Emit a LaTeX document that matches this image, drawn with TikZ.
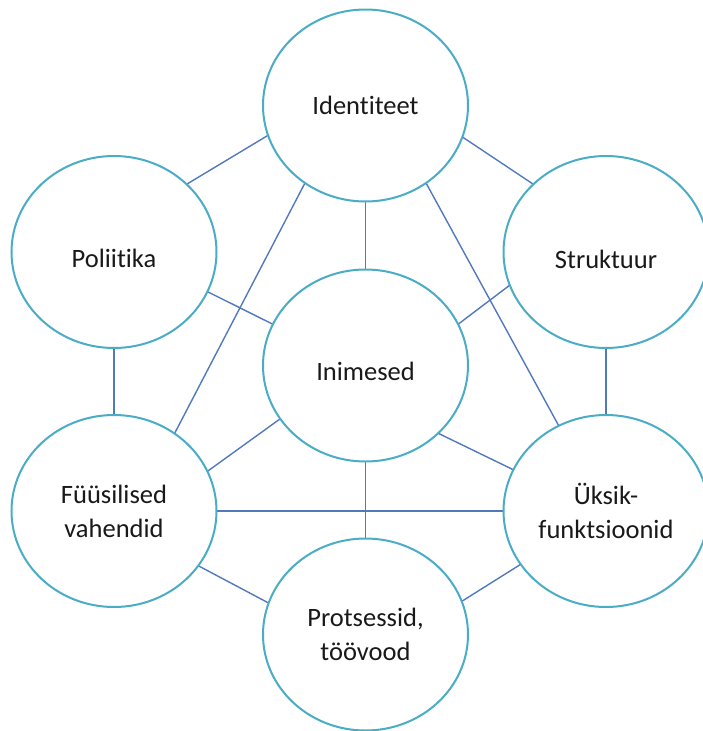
\documentclass[tikz,border=0pt]{standalone}
\usepackage{fontspec}
\setmainfont{Carlito}[Ligatures={NoCommon}]
\usetikzlibrary{shapes.geometric,backgrounds}
\definecolor{ringcol}{RGB}{75,172,198}
\definecolor{linkcol}{RGB}{82,120,190}
% move a label down without changing its box
\newcommand{\dropby}[2]{\raisebox{-#1}[\height][\depth]{#2}}
\begin{document}
\begin{tikzpicture}[x=1pt,y=-1pt,
  topic/.style={ellipse, draw=ringcol, line width=2pt, fill=white,
    minimum width=205pt, minimum height=192pt, inner sep=0pt, outer sep=0pt,
    align=center, font=\fontsize{26.5}{34}\selectfont, text=black!90},
  link/.style={draw=linkcol, line width=1.4pt}]
\useasboundingbox (0,0) rectangle (703,731);
\clip (0,0) rectangle (703,731);

% the seven topics
\node[topic] (ident)  at (365.5,105.5) {Identiteet};
\node[topic] (pol)    at (114,252)     {\dropby{6pt}{Poliitika}};
\node[topic] (strukt) at (606,252)     {\dropby{7pt}{Struktuur}};
\node[topic] (inim)   at (365.5,365.5) {\dropby{6pt}{Inimesed}};
\node[topic] (fuus)   at (114,511)     {Füüsilised\\vahendid};
\node[topic] (uksik)  at (606,511)     {Üksik-\\funktsioonid};
\node[topic] (prot)   at (365.5,634.5) {Protsessid,\\töövood};

% connections between topics
\begin{scope}[on background layer]
  \draw[link] (ident.197.7) -- (pol.43);
  \draw[link] (ident.342)   -- (strukt.137);
  \draw[link] (ident.270)   -- (inim.90);
  \draw[link] (ident.232.7) -- (fuus.52.8);
  \draw[link] (ident.308)   -- (uksik.119);
  \draw[link] (pol.337)     -- (inim.156.4);
  \draw[link] (pol.270)     -- (fuus.90);
  \draw[link] (strukt.199)  -- (inim.24.3);
  \draw[link] (strukt.270)  -- (uksik.90);
  \draw[link] (inim.212.5)  -- (fuus.23.8);
  \draw[link] (inim.317.8)  -- (uksik.156.4);
  \draw[link] (inim.270)    -- (prot.90);
  \draw[link] (fuus.0)      -- (uksik.180);
  \draw[link] (fuus.327.4)  -- (prot.162);
  \draw[link] (uksik.212.3) -- (prot.19);
\end{scope}
\end{tikzpicture}
\end{document}
